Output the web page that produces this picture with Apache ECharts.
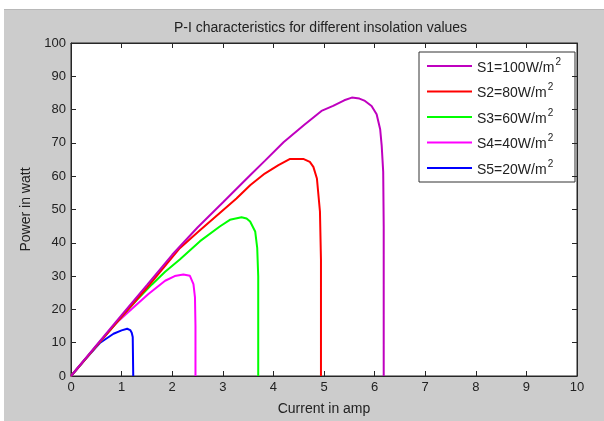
<!DOCTYPE html>
<html>
<head>
<meta charset="utf-8">
<script src="https://cdn.jsdelivr.net/npm/echarts@6/dist/echarts.min.js"></script>
<style>
html,body{margin:0;padding:0;background:#fff;}
#c{width:604px;height:421px;}
</style>
</head>
<body>
<div id="c"></div>
<script>
// Data (current in A, power in W)
var seriesNames = ['S1=100W/m2', 'S2=80W/m2', 'S3=60W/m2', 'S4=40W/m2', 'S5=20W/m2'];
var legendMain = ['S1=100W/m', 'S2=80W/m', 'S3=60W/m', 'S4=40W/m', 'S5=20W/m'];
var seriesColors = ['#bf00bf', '#ff0000', '#00ff00', '#ff00ff', '#0000ff'];

var s1 = [[0,0],[0.5,9.2],[1,18.3],[1.5,27.3],[2,36.4],[2.5,44.6],[3,52.1],[3.54,60.3],[3.83,64.6],[4.2,70.2],[4.6,75.3],[4.95,79.6],[5.18,81.1],[5.4,82.8],[5.55,83.6],[5.7,83.3],[5.81,82.6],[5.94,81.1],[6.04,78.6],[6.11,74.1],[6.14,69.2],[6.17,61.3],[6.18,45],[6.18,0]];
var s2 = [[0,0],[0.5,9.0],[1,17.8],[1.5,26.5],[2.15,38.4],[2.52,43.4],[3.27,53.3],[3.54,57.3],[3.83,60.8],[4.1,63.3],[4.33,65.2],[4.59,65.2],[4.72,64.3],[4.79,62.8],[4.86,59.3],[4.92,49.4],[4.94,35],[4.94,0]];
var s3 = [[0,0],[0.5,9.0],[1,17.8],[1.3,22.8],[1.6,27.5],[1.86,31.3],[2.15,35.0],[2.55,40.5],[2.94,44.9],[3.14,46.9],[3.37,47.7],[3.47,47.3],[3.54,46.4],[3.64,43.4],[3.68,38.5],[3.70,30],[3.70,0]];
var s4 = [[0,0],[0.5,8.9],[0.9,16.0],[1.2,20.1],[1.53,24.6],[1.86,28.6],[2.05,30.0],[2.22,30.5],[2.35,30.1],[2.42,27.6],[2.45,23.6],[2.46,15],[2.46,0]];
var s5 = [[0,0],[0.3,5.3],[0.57,9.9],[0.84,12.7],[1.0,13.7],[1.11,14.2],[1.17,13.8],[1.2,13.0],[1.22,11.7],[1.23,0]];
var allData = [s1, s2, s3, s4, s5];

var xTicks = {min: 0, max: 10, interval: 1};
var yTicks = {min: 0, max: 100, interval: 10};

var chart = echarts.init(document.getElementById('c'), null, {renderer: 'canvas'});
var FONT = 'Liberation Sans, Arial, sans-serif';

var series = allData.map(function (d, i) {
  return {
    name: seriesNames[i],
    type: 'line',
    data: d,
    xAxisIndex: 0,
    yAxisIndex: 0,
    showSymbol: false,
    symbol: 'none',
    lineStyle: {color: seriesColors[i], width: 2},
    itemStyle: {color: seriesColors[i]},
    animation: false,
    z: 10 - i
  };
});

function axisBase() {
  return {
    type: 'value',
    z: 5,
    axisLine: {show: true, onZero: false, lineStyle: {color: '#262626', width: 1}},
    axisTick: {show: true, inside: false, length: -5, lineStyle: {color: '#262626', width: 1}},
    splitLine: {show: false},
    axisLabel: {color: '#222', fontSize: 13, fontFamily: FONT}
  };
}

var option = {
  backgroundColor: 'transparent',
  animation: false,
  graphic: [
    {type: 'rect', shape: {x: 4, y: 10, width: 600, height: 411}, style: {fill: '#cccccc'}, z: -10, silent: true},
    {type: 'line', shape: {x1: 4, y1: 9.5, x2: 604, y2: 9.5}, style: {stroke: '#b8b8b8', lineWidth: 1}, z: -9, silent: true}
  ],
  title: {
    text: 'P-I characteristics for different insolation values',
    left: 169,
    top: 16,
    textStyle: {fontSize: 14, fontWeight: 'normal', color: '#222', fontFamily: FONT}
  },
  legend: {
    orient: 'vertical',
    left: 419,
    top: 52,
    padding: [5, 14, 5, 8],
    itemWidth: 45,
    itemHeight: 14,
    itemGap: 7.5,
    backgroundColor: '#fff',
    borderColor: '#333',
    borderWidth: 1,
    borderRadius: 0,
    icon: 'path://M0,6 L45,6 L45,8 L0,8 Z',
    data: seriesNames,
    formatter: function (name) {
      var i = seriesNames.indexOf(name);
      return '{a|' + legendMain[i] + '}{s|2}';
    },
    textStyle: {
      fontFamily: FONT,
      color: '#222',
      rich: {
        a: {fontSize: 14, fontFamily: FONT, color: '#222', lineHeight: 18, verticalAlign: 'bottom'},
        s: {fontSize: 10, fontFamily: FONT, color: '#222', lineHeight: 18, verticalAlign: 'top', padding: [0, 0, 0, 1]}
      }
    }
  },
  grid: {
    left: 71,
    top: 43,
    right: 27,
    bottom: 41.5,
    show: true,
    backgroundColor: '#ffffff',
    borderColor: '#262626',
    borderWidth: 1
  },
  xAxis: [
    Object.assign(axisBase(), {
      position: 'bottom',
      min: xTicks.min, max: xTicks.max, interval: xTicks.interval,
      name: 'Current in amp',
      nameLocation: 'middle',
      nameGap: 26,
      nameTextStyle: {fontSize: 14, color: '#222', fontFamily: FONT},
      axisLabel: {color: '#222', fontSize: 13, fontFamily: FONT, margin: 5}
    }),
    Object.assign(axisBase(), {
      position: 'top',
      min: xTicks.min, max: xTicks.max, interval: xTicks.interval,
      axisLabel: {show: false}
    })
  ],
  yAxis: [
    Object.assign(axisBase(), {
      position: 'left',
      min: yTicks.min, max: yTicks.max, interval: yTicks.interval,
      name: 'Power in watt',
      nameLocation: 'middle',
      nameGap: 37,
      nameTextStyle: {fontSize: 14, color: '#222', fontFamily: FONT},
      axisLabel: {color: '#222', fontSize: 13, fontFamily: FONT, margin: 5}
    }),
    Object.assign(axisBase(), {
      position: 'right',
      min: yTicks.min, max: yTicks.max, interval: yTicks.interval,
      axisLabel: {show: false}
    })
  ],
  series: series
};
chart.setOption(option);
</script>
</body>
</html>
